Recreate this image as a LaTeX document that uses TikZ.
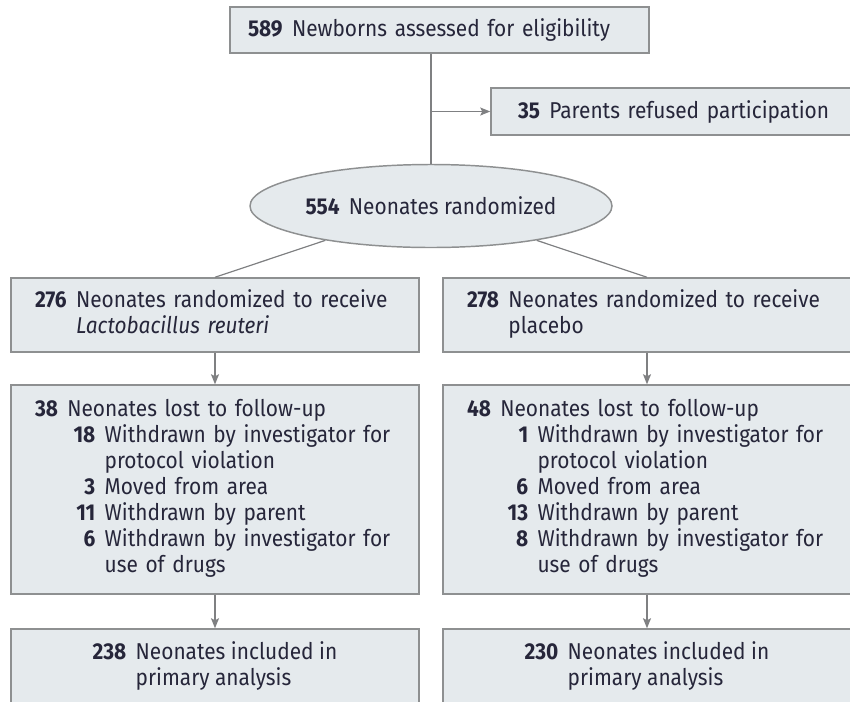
\documentclass[tikz,border=0pt]{standalone}
\usepackage{fontspec}
\setmainfont[FakeStretch=0.91]{Fira Sans}
\usetikzlibrary{shapes.geometric,arrows.meta}
\definecolor{boxfill}{HTML}{E5EAED}
\definecolor{boxline}{HTML}{8E9091}
\definecolor{linkgray}{HTML}{7F8082}
\definecolor{inkdark}{HTML}{26263A}
\newcommand{\cnt}[1]{\textbf{#1}}
\newcommand{\subcnt}[1]{\makebox[21pt][r]{\textbf{#1}}\hspace{7pt}}
\newcommand{\subhang}{\hspace{28pt}}
\begin{document}
\begin{tikzpicture}[x=0.75pt,y=-0.75pt,
    box/.style={draw=boxline, fill=boxfill, line width=1.1pt, rectangle, inner ysep=0pt,
      text=inkdark, font=\fontsize{17.2}{19.5}\selectfont},
    colbox/.style={box, minimum width=306pt, inner xsep=18pt, text width=270pt, align=left},
    link/.style={draw=linkgray, line width=0.9pt},
    arr/.style={link, -{Stealth[length=7.5pt,width=6pt,inset=1.5pt]}}]
  \useasboundingbox (0,0) rectangle (850,701);
  \clip (0,0) rectangle (850,701);

  % enrollment
  \node[box, inner xsep=13.5pt, text width=287.25pt, minimum height=34.5pt, align=left]
    (assessed) at (439.5,30) {\cnt{589}\hspace{7pt}Newborns assessed for eligibility};
  \node[box, inner xsep=20.25pt, text width=229.5pt, minimum height=35.25pt, align=left]
    (refused) at (671,111.5) {\mbox{\cnt{35}\hspace{7pt}Parents refused participation}};
  \node[box, ellipse, inner sep=0pt, minimum width=271.5pt, minimum height=62.25pt]
    (randomized) at (431,206) {\cnt{554}\hspace{7pt}Neonates randomized};

  % allocation
  \node[colbox, minimum height=55.5pt] (allocL) at (215,315) {%
    \begin{tabular}{@{}r@{\hspace{7pt}}l@{}}
      \cnt{276} & Neonates randomized to receive\\
       & \textit{Lactobacillus reuteri}
    \end{tabular}};
  \node[colbox, minimum height=55.5pt] (allocR) at (647,315) {%
    \begin{tabular}{@{}r@{\hspace{7pt}}l@{}}
      \cnt{278} & Neonates randomized to receive\\
       & placebo
    \end{tabular}};

  % follow-up
  \node[colbox, minimum height=156.75pt] (lostL) at (215,489.5) {%
    \begin{tabular}{@{}r@{\hspace{7pt}}l@{}}
      \cnt{38} & Neonates lost to follow-up\\
       & \subcnt{18}Withdrawn by investigator for\\
       & \subhang protocol violation\\
       & \subcnt{3}Moved from area\\
       & \subcnt{11}Withdrawn by parent\\
       & \subcnt{6}Withdrawn by investigator for\\
       & \subhang use of drugs
    \end{tabular}};
  \node[colbox, minimum height=156.75pt] (lostR) at (647,489.5) {%
    \begin{tabular}{@{}r@{\hspace{7pt}}l@{}}
      \cnt{48} & Neonates lost to follow-up\\
       & \subcnt{1}Withdrawn by investigator for\\
       & \subhang protocol violation\\
       & \subcnt{6}Moved from area\\
       & \subcnt{13}Withdrawn by parent\\
       & \subcnt{8}Withdrawn by investigator for\\
       & \subhang use of drugs
    \end{tabular}};

  % analysis
  \node[box, minimum width=306pt, minimum height=57.75pt] (inclL) at (215,667.5) {%
    \begin{tabular}{@{}r@{\hspace{7pt}}l@{}}
      \cnt{238} & Neonates included in\\
       & primary analysis
    \end{tabular}};
  \node[box, minimum width=306pt, minimum height=57.75pt] (inclR) at (647,667.5) {%
    \begin{tabular}{@{}r@{\hspace{7pt}}l@{}}
      \cnt{230} & Neonates included in\\
       & primary analysis
    \end{tabular}};

  % connectors
  \draw[link] (randomized.north) -- (randomized.north |- assessed.south);
  \draw[arr] (randomized.north |- refused.west) -- (refused.west);
  \draw[link] (randomized.198) -- (allocL.north);
  \draw[link] (randomized.-18) -- (allocR.north);
  \draw[arr] (allocL) -- (lostL);
  \draw[arr] (allocR) -- (lostR);
  \draw[arr] (lostL) -- (inclL);
  \draw[arr] (lostR) -- (inclR);
\end{tikzpicture}
\end{document}
